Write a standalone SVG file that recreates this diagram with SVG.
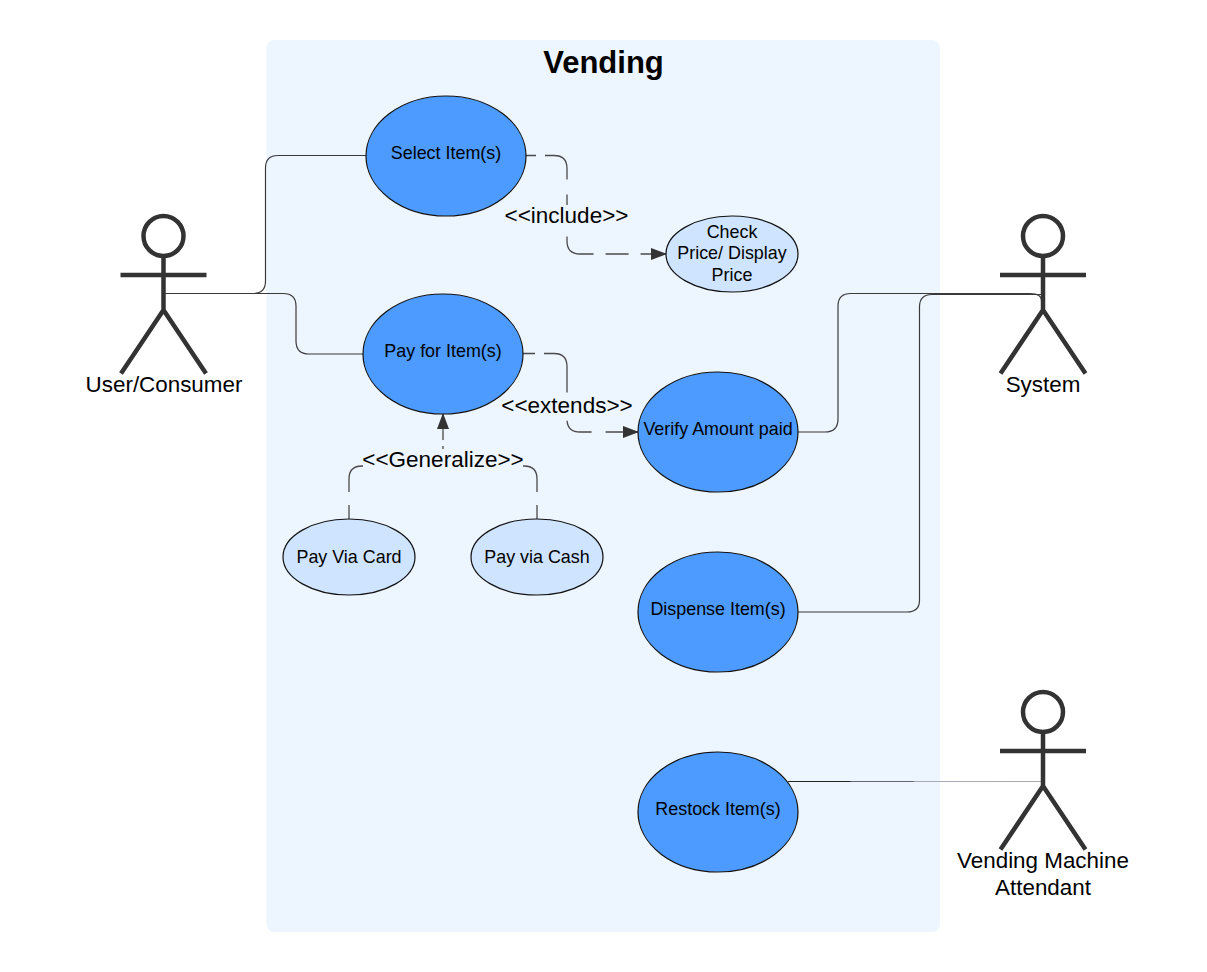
<svg xmlns="http://www.w3.org/2000/svg" width="1207" height="972" viewBox="0 0 1207 972">
<style>
text{font-family:"Liberation Sans",Arial,sans-serif;fill:#000;text-anchor:middle}
.t{font-size:17.9px}
.l{font-size:22.5px}
.a{font-size:22.4px}
.dark{fill:#4d9bff;stroke:#111;stroke-width:1.2}
.lite{fill:#cfe4ff;stroke:#111;stroke-width:1.2}
.c{fill:none;stroke:#3a3a3a;stroke-width:1.2}
.d{fill:none;stroke:#4a4a4a;stroke-width:1.3}
.bg{fill:#edf5fe}
.act{fill:none;stroke:#333;stroke-width:4.5}
</style>
<defs>
<marker id="ah" markerWidth="16" markerHeight="12" refX="15" refY="6" orient="auto" markerUnits="userSpaceOnUse"><path d="M0 0L16 6L0 12Z" fill="#333"/></marker>
<linearGradient id="fade" gradientUnits="userSpaceOnUse" x1="788" y1="0" x2="1043" y2="0">
<stop offset="0" stop-color="#222"/><stop offset="0.24" stop-color="#222"/><stop offset="0.25" stop-color="#667"/><stop offset="0.49" stop-color="#667"/><stop offset="0.5" stop-color="#aab"/><stop offset="1" stop-color="#aaa"/>
</linearGradient>
</defs>
<rect id="boundary" x="266.500" y="40" width="673.500" height="892" rx="8" fill="#edf5fe"/>
<text x="603.500" y="73" style="font-size:31px;font-weight:bold">Vending</text>
<g id="connectors">
<path class="c" d="M164 293.500H253Q265.500 293.500 265.500 281V168Q265.500 155.500 278 155.500H366"/>
<path class="c" d="M164 293.500H283Q296 293.500 296 306V341Q296 354 309 354H363"/>
<path class="d" d="M526 155.500H554Q567 155.500 567 168.500V241Q567 254 580 254H666" marker-end="url(#ah)" stroke-dasharray="10 9 41 15 20 22 39 12 23 12 40"/>
<path class="d" d="M523 353.500H554Q567 353.500 567 366.500V419Q567 432 580 432H638" marker-end="url(#ah)" stroke-dasharray="12 9 57 28 31 14 60"/>
<path class="d" d="M349 519V479Q349 466 362 466H443" stroke-dasharray="14 13 200"/>
<path class="d" d="M537 519V479Q537 466 524 466H443" stroke-dasharray="14 13 200"/>
<path class="d" d="M443 449V414" marker-end="url(#ah)" stroke-dasharray="3 6 30"/>
<path class="c" d="M798 432H825Q838 432 838 419V306Q838 293.500 851 293.500H1030Q1042 293.500 1042 302"/>
<path class="c" d="M798 612H907Q919.500 612 919.500 600V307Q919.500 294.500 932 294.500H1042"/>
<path d="M788 781.500H1043" fill="none" stroke="url(#fade)" stroke-width="1"/>
</g>
<g id="label-include"><rect class="bg" x="505" y="205" width="123" height="24"/><text class="l" x="566.500" y="223">&lt;&lt;include&gt;&gt;</text></g>
<g id="label-extends"><rect class="bg" x="502" y="394" width="130" height="24"/><text class="l" x="567" y="413">&lt;&lt;extends&gt;&gt;</text></g>
<g id="label-generalize"><rect class="bg" x="363" y="449" width="160" height="22"/><text class="l" x="443" y="467">&lt;&lt;Generalize&gt;&gt;</text></g>
<g id="select"><ellipse class="dark" cx="446" cy="156" rx="80" ry="60"/><text class="t" x="446" y="159">Select Item(s)</text></g>
<g id="pay"><ellipse class="dark" cx="443" cy="354" rx="80" ry="60"/><text class="t" x="443" y="357">Pay for Item(s)</text></g>
<g id="check"><ellipse class="lite" cx="732" cy="254" rx="66" ry="38"/><text class="t" x="732" y="238">Check</text><text class="t" x="732" y="259">Price/ Display</text><text class="t" x="732" y="281">Price</text></g>
<g id="verify"><ellipse class="dark" cx="718" cy="432" rx="80" ry="60"/><text class="t" x="718" y="435">Verify Amount paid</text></g>
<g id="card"><ellipse class="lite" cx="349" cy="557" rx="66" ry="38"/><text class="t" x="349" y="563">Pay Via Card</text></g>
<g id="cash"><ellipse class="lite" cx="537" cy="557" rx="66" ry="38"/><text class="t" x="537" y="563">Pay via Cash</text></g>
<g id="dispense"><ellipse class="dark" cx="718" cy="612" rx="80" ry="60"/><text class="t" x="718" y="615">Dispense Item(s)</text></g>
<g id="restock"><ellipse class="dark" cx="718" cy="812" rx="80" ry="60"/><text class="t" x="718" y="815">Restock Item(s)</text></g>
<g id="actor-user"><g class="act"><circle cx="163.500" cy="236" r="20"/><path d="M163.500 256V310M120.500 275H206.500M163.500 310L121 373.500M163.500 310L206 373.500"/></g><text class="a" x="164" y="392">User/Consumer</text></g>
<g id="actor-system"><g class="act"><circle cx="1043" cy="236" r="20"/><path d="M1043 256V310M1000 275H1086M1043 310L1000.500 373.500M1043 310L1085.500 373.500"/></g><text class="a" x="1043" y="392">System</text></g>
<g id="actor-attendant"><g class="act"><circle cx="1043" cy="712" r="20"/><path d="M1043 732V786M1000 751H1086M1043 786L1000.500 849.500M1043 786L1085.500 849.500"/></g><text class="a" x="1043" y="868">Vending Machine</text><text class="a" x="1043" y="895">Attendant</text></g>
</svg>
